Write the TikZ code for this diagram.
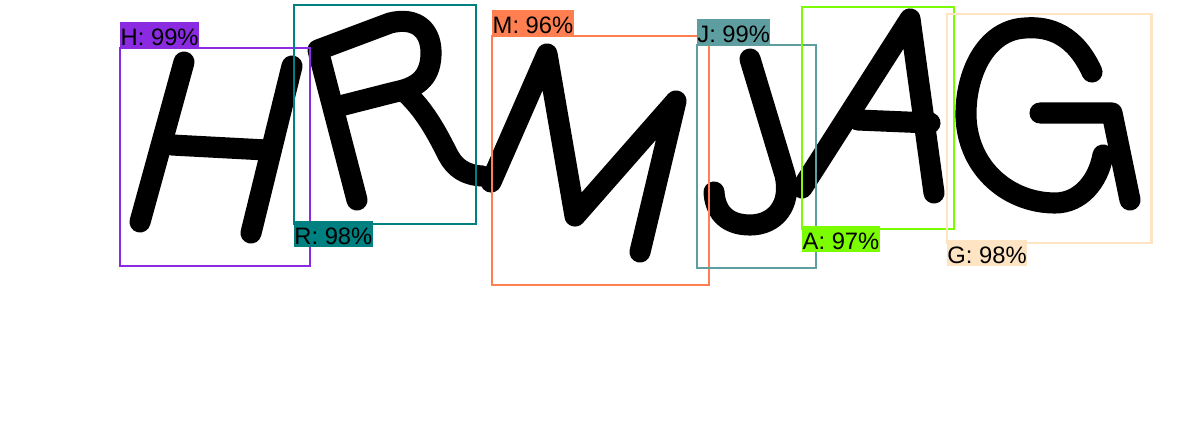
\documentclass[tikz,border=0pt]{standalone}
\usepackage{fontspec}
\setmainfont{Liberation Sans}
\usepackage{tikz}
\definecolor{colH}{HTML}{8A2BE2}
\definecolor{colR}{HTML}{008080}
\definecolor{colM}{HTML}{FF7F50}
\definecolor{colJ}{HTML}{5F9EA0}
\definecolor{colA}{HTML}{7CFC00}
\definecolor{colG}{HTML}{FFE4C4}

\begin{document}
\begin{tikzpicture}[x=0.025cm, y=-0.025cm,
		glyph/.style={line width=15pt, line cap=round, line join=round},
		detbox/.style={line width=1.5pt},
		detlabel/.style={inner xsep=0.3pt, inner ysep=0pt, text height=16.7pt, text depth=1.4pt, text=black, font=\fontsize{16.9}{18}\selectfont}]
			\useasboundingbox (0, 0) rectangle (1200, 420);
			
			\draw[glyph] (184, 62) -- (140, 222);
			\draw[glyph] (292, 66) -- (251, 233);
			\draw[glyph] (172, 145) -- (266, 150);
			
			\draw[glyph] (357, 200) -- (318, 50) -- (390, 23) .. controls (418, 16) and (432, 32) .. (431, 55)
			.. controls (430, 80) and (415, 88) .. (395, 92) -- (340, 106);
			\draw[glyph] (405, 92) .. controls (425, 110) and (438, 135) .. (448, 155)
			.. controls (455, 168) and (465, 175) .. (482, 176);
			
			\draw[glyph] (491, 182) -- (547, 54) -- (575, 216) -- (676, 101) -- (640, 252);
			
			\draw[glyph] (750, 59) -- (785, 175) .. controls (792, 205) and (775, 225) .. (750, 225)
			.. controls (725, 225) and (715, 210) .. (714, 192);
			
			\draw[glyph] (802, 188) -- (910, 19) -- (934, 193);
			\draw[glyph] (858, 120) -- (930, 123);
			
			\draw[glyph] (1092, 72) .. controls (1075, 35) and (1050, 26) .. (1025, 28)
			.. controls (985, 30) and (965, 75) .. (966, 117)
			.. controls (968, 170) and (1010, 203) .. (1055, 203)
			.. controls (1080, 203) and (1098, 182) .. (1103, 155);
			\draw[glyph] (1040, 113) -- (1112, 113) -- (1130, 200);
			
			\coordinate (Hnw) at (120, 47.7);
			\coordinate (Hse) at (310, 265.7);
			\coordinate (Rnw) at (293.7, 4.7);
			\coordinate (Rse) at (476.3, 223.7);
			\coordinate (Mnw) at (492, 35.7);
			\coordinate (Mse) at (709, 285);
			\coordinate (Jnw) at (696.7, 44.7);
			\coordinate (Jse) at (816, 268.3);
			\coordinate (Anw) at (802, 6.7);
			\coordinate (Ase) at (954, 229);
			\coordinate (Gnw) at (946.7, 14);
			\coordinate (Gse) at (1151.5, 242.7);
			
			\draw[detbox, colH] (Hnw) rectangle (Hse);
			\draw[detbox, colR] (Rnw) rectangle (Rse);
			\draw[detbox, colM] (Mnw) rectangle (Mse);
			\draw[detbox, colJ] (Jnw) rectangle (Jse);
			\draw[detbox, colA] (Anw) rectangle (Ase);
			\draw[detbox, colG] (Gnw) rectangle (Gse);
			
			\node[detlabel, fill=colH, anchor=south west] (Hlabel) at (Hnw) {H: 99\%};
			\node[detlabel, fill=colR, anchor=north west] (Rlabel) at (Rnw |- 0, 221) {R: 98\%};
			\node[detlabel, fill=colM, anchor=south west] (Mlabel) at (Mnw) {M: 96\%};
			\node[detlabel, fill=colJ, anchor=south west] (Jlabel) at (Jnw) {J: 99\%};
			\node[detlabel, fill=colA, anchor=north west] (Alabel) at (Anw |- 0, 226) {A: 97\%};
			\node[detlabel, fill=colG, anchor=north west] (Glabel) at (Gnw |- 0, 240) {G: 98\%};
			
		\end{tikzpicture}
\end{document}
